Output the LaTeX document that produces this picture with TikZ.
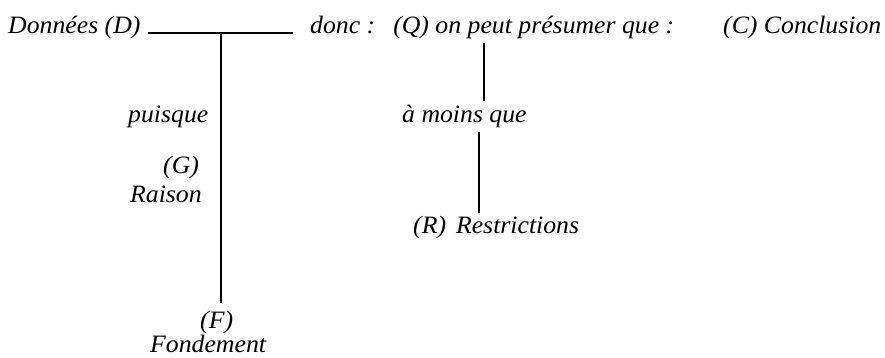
\documentclass[tikz,border=0pt]{standalone}
\usepackage{fontspec}
\setmainfont{Liberation Serif}[FakeStretch=1.03]
\begin{document}
\begin{tikzpicture}[x=1pt,y=-1pt,
  lbl/.style={anchor=base west, inner sep=0pt, font=\fontsize{25}{29}\selectfont\itshape},
  rule/.style={line width=1.4pt, black}]
\useasboundingbox (0,0) rectangle (885,358);
\node[lbl] (D) at (8,34) {Données (D)};
\node[lbl] (Q) at (310,34) {donc :\hspace{18pt}(Q) on peut présumer que :};
\node[lbl] (C) at (723,34) {(C) Conclusion};
\node[lbl] (puisque) at (128,123) {puisque};
\node[lbl] (G) at (163,173) {(G)};
\node[lbl] (Raison) at (130,202) {Raison};
\node[lbl] (amoins) at (402,123) {à moins que};
\node[lbl] (R) at (413,233) {(R)\hspace{10pt}Restrictions};
\node[lbl] (F) at (200,328) {(F)};
\node[lbl] (Fond) at (150,352) {Fondement};
\coordinate (h1) at (148,33);
\coordinate (h2) at (293,33);
\coordinate (j) at (221,33);
\coordinate (v1) at (221,303);
\coordinate (q1) at (484,43);
\coordinate (q2) at (484,101);
\coordinate (r1) at (479,132);
\coordinate (r2) at (479,213);
\draw[rule] (h1) -- (h2);
\draw[rule] (j) -- (v1);
\draw[rule] (q1) -- (q2);
\draw[rule] (r1) -- (r2);
\end{tikzpicture}
\end{document}
